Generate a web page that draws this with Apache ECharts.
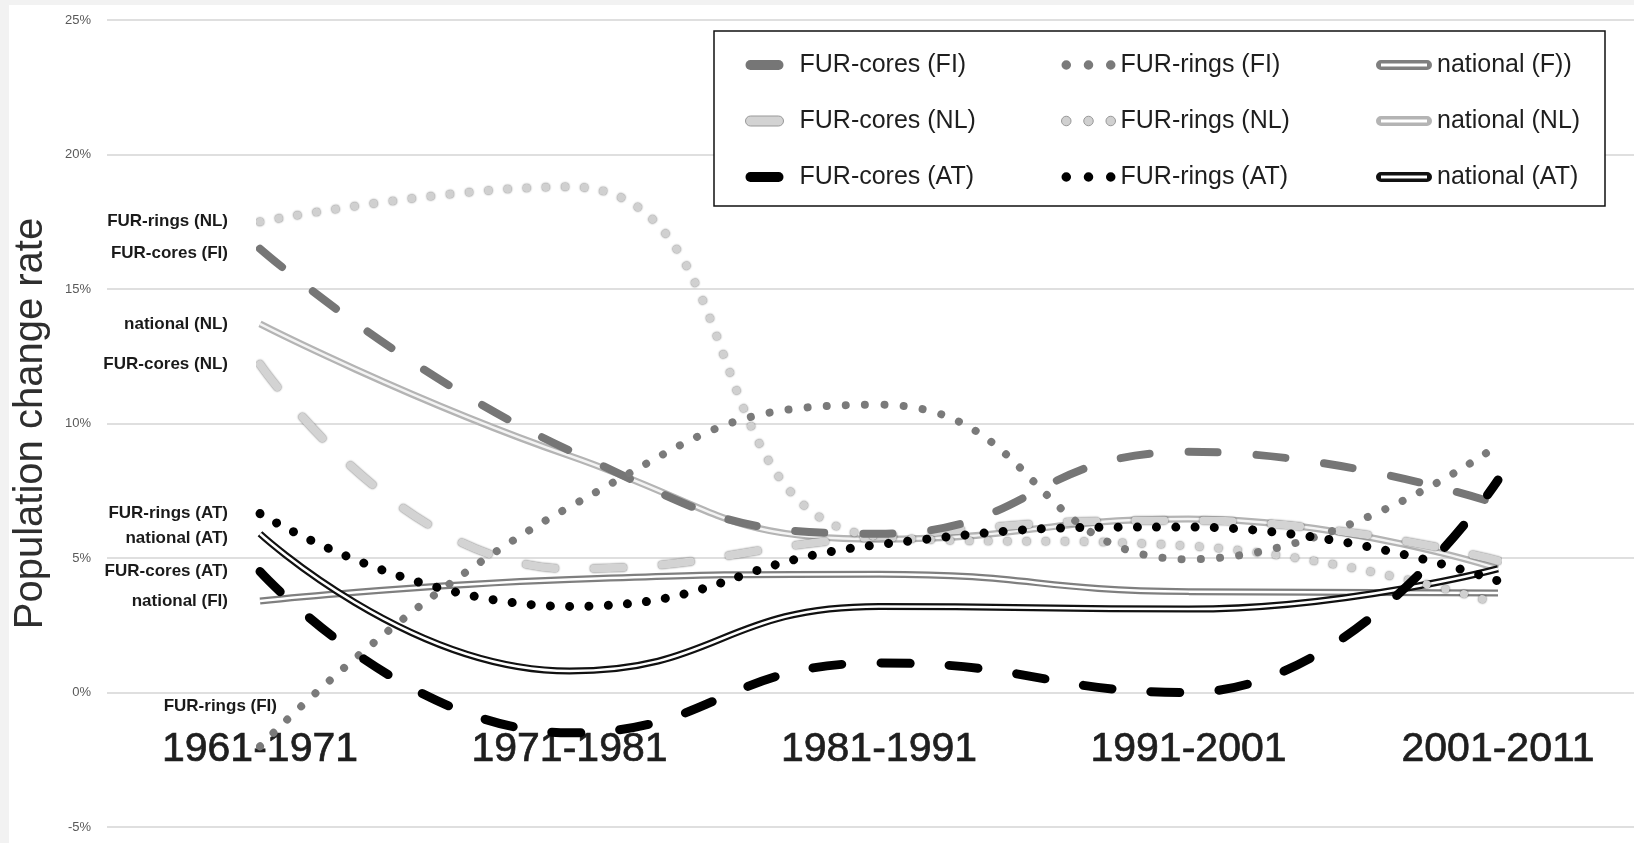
<!DOCTYPE html>
<html>
<head>
<meta charset="utf-8">
<title>Population change rate</title>
<script src="https://cdn.jsdelivr.net/npm/echarts@6.0.0/dist/echarts.min.js"></script>
<style>
  html, body { margin: 0; padding: 0; background: #fff; }
  #chart { width: 1634px; height: 843px; }
</style>
</head>
<body>
<div id="chart"></div>
<script>
// categories / ticks
var periods = ['1961-1971', '1971-1981', '1981-1991', '1991-2001', '2001-2011'];
var yTicks = [-5, 0, 5, 10, 15, 20, 25];

// population change rate in %
var coresFI    = [16.5, 9.0, 5.9, 8.95, 7.0];
var ringsFI    = [-2.0, 6.9, 10.7, 4.95, 9.2];
var nationalFI = [3.4, 4.2, 4.4, 3.75, 3.7];
var coresNL    = [12.2, 4.6, 5.8, 6.4, 4.9];
var ringsNL    = [17.5, 18.8, 5.8, 5.45, 3.3];
var nationalNL = [13.7, 8.8, 5.7, 6.45, 4.6];
var coresAT    = [4.5, -1.5, 1.1, 0.0, 7.9];
var ringsAT    = [6.65, 3.2, 5.5, 6.15, 4.15];
var nationalAT = [5.9, 0.8, 3.2, 3.1, 4.6];

var FONT = 'Liberation Sans';
var chartDom = document.getElementById('chart');
var myChart = echarts.init(chartDom);
var option;

// legend icons
var pill = 'path://M5,0h28a5,5 0 0 1 0,10h-28a5,5 0 0 1 0,-10z';
var dots = 'path://M0,4.5a4.5,4.5 0 1,0 9,0a4.5,4.5 0 1,0 -9,0zM21,4.5a4.5,4.5 0 1,0 9,0a4.5,4.5 0 1,0 -9,0zM42,4.5a4.5,4.5 0 1,0 9,0a4.5,4.5 0 1,0 -9,0z';
var ring = 'path://M5,0h46a5,5 0 0 1 0,10h-46a5,5 0 0 1 0,-10zM5,3.5v3h46v-3z';

var dash = [29, 39];
var dot = [0.01, 19.2];
var outline = { shadowColor: 'rgba(0,0,0,0.6)', shadowBlur: 2 };

// first point carries the series name on the left
function points(vals, label, offset) {
  return vals.map(function (v, i) {
    if (i === 0 && label) {
      return { value: v, label: { show: true, formatter: label, offset: offset || [0, 0] } };
    }
    return v;
  });
}

function line(name, vals, style, label, offset) {
  return {
    name: name,
    type: 'line',
    xAxisIndex: 1,
    yAxisIndex: 1,
    smooth: 0.5,
    data: points(vals, label, offset),
    symbol: 'circle',
    symbolSize: 0,
    showSymbol: true,
    color: style.color,
    lineStyle: style,
    label: {
      show: false,
      position: 'left',
      distance: 32,
      fontFamily: FONT,
      fontWeight: 'bold',
      fontSize: 17,
      color: '#1a1a1a'
    },
    emphasis: { disabled: true },
    silent: true
  };
}

var legendBase = {
  orient: 'vertical',
  top: 52,
  itemGap: 30,
  itemHeight: 10,
  padding: 0,
  selectedMode: false,
  z: 5,
  textStyle: { fontFamily: FONT, fontSize: 25, lineHeight: 26, color: '#1e1e1e' }
};

option = {
  animation: false,
  backgroundColor: '#fff',
  grid: [
    // full-width grid: gridlines, % labels, axis name
    { left: 107, right: 0, top: 20, bottom: 16, outerBoundsMode: 'none' },
    // plot grid: first and last period sit on its edges
    { left: 260, right: 136, top: 20, bottom: 16, outerBoundsMode: 'none' }
  ],
  xAxis: [
    { gridIndex: 0, type: 'value', show: false },
    {
      gridIndex: 1,
      type: 'category',
      data: periods,
      boundaryGap: false,
      position: 'bottom',
      offset: -135,
      axisLine: { show: false, onZero: false },
      axisTick: { show: false },
      splitLine: { show: false },
      axisLabel: {
        interval: 0, fontFamily: FONT, fontSize: 41, color: '#1e1e1e', margin: 37,
        textBorderColor: '#1e1e1e', textBorderWidth: 0.7
      }
    }
  ],
  yAxis: [
    {
      gridIndex: 0,
      type: 'value',
      min: yTicks[0],
      max: yTicks[yTicks.length - 1],
      interval: 5,
      name: 'Population change rate',
      nameLocation: 'middle',
      nameGap: 56,
      nameTextStyle: { fontFamily: FONT, fontSize: 40, color: '#2e2e2e' },
      axisLine: { show: false, onZero: false },
      axisTick: { show: false },
      axisLabel: { formatter: '{value}%', fontFamily: FONT, fontSize: 13, color: '#595959', margin: 16 },
      splitLine: { lineStyle: { color: '#d4d4d4', width: 1.5 } }
    },
    {
      gridIndex: 1,
      type: 'value',
      min: yTicks[0],
      max: yTicks[yTicks.length - 1],
      interval: 5,
      show: false,
      splitLine: { show: false }
    }
  ],
  graphic: [
    {
      type: 'rect',
      z: 3,
      shape: { x: 714, y: 31, width: 891, height: 175 },
      style: { fill: '#fff', stroke: '#111', lineWidth: 1.5 }
    },
    // faint grey edge of the scanned figure
    { type: 'rect', z: 10, shape: { x: 0, y: 0, width: 9, height: 843 }, style: { fill: '#f2f2f2' } },
    { type: 'rect', z: 10, shape: { x: 0, y: 0, width: 1634, height: 5 }, style: { fill: '#f2f2f2' } }
  ],
  legend: [
    Object.assign({}, legendBase, {
      left: 745, itemWidth: 60,
      data: [
        { name: 'FUR-cores (FI)', icon: pill },
        { name: 'FUR-cores (NL)', icon: pill, itemStyle: { borderColor: '#999', borderWidth: 1 } },
        { name: 'FUR-cores (AT)', icon: pill }
      ]
    }),
    Object.assign({}, legendBase, {
      left: 1061, itemWidth: 54,
      data: [
        { name: 'FUR-rings (FI)', icon: dots },
        { name: 'FUR-rings (NL)', icon: dots, itemStyle: { borderColor: '#999', borderWidth: 1 } },
        { name: 'FUR-rings (AT)', icon: dots }
      ]
    }),
    Object.assign({}, legendBase, {
      left: 1376, itemWidth: 56,
      data: [
        { name: 'national (F))', icon: ring },
        { name: 'national (NL)', icon: ring },
        { name: 'national (AT)', icon: ring }
      ]
    })
  ],
  series: [
    // double lines: dark outer stroke, light inner stroke
    line('national (F))', nationalFI, { color: '#7f7f7f', width: 7 }, 'national (FI)'),
    line('nationalFI-inner', nationalFI, { color: '#ffffff', width: 2.5 }),
    line('national (NL)', nationalNL, { color: '#b4b4b4', width: 7 }, 'national (NL)'),
    line('nationalNL-inner', nationalNL, { color: '#f4f4f4', width: 2.5 }),
    line('national (AT)', nationalAT, { color: '#111111', width: 7 }, 'national (AT)', [0, 5]),
    line('nationalAT-inner', nationalAT, { color: '#ffffff', width: 2.5 }),

    line('FUR-cores (NL)', coresNL, Object.assign({ color: '#d3d3d3', width: 8, type: dash, cap: 'round' }, outline), 'FUR-cores (NL)'),
    line('FUR-rings (NL)', ringsNL, Object.assign({ color: '#d0d0d0', width: 8, type: dot, cap: 'round' }, outline), 'FUR-rings (NL)'),
    line('FUR-cores (FI)', coresFI, { color: '#767676', width: 8, type: dash, cap: 'round' }, 'FUR-cores (FI)', [0, 5]),
    line('FUR-rings (FI)', ringsFI, { color: '#7a7a7a', width: 8, type: dot, cap: 'round' }, 'FUR-rings (FI)', [49, -40]),
    line('FUR-cores (AT)', coresAT, { color: '#000000', width: 9, type: dash, cap: 'round' }, 'FUR-cores (AT)'),
    line('FUR-rings (AT)', ringsAT, { color: '#000000', width: 9, type: dot, cap: 'round' }, 'FUR-rings (AT)')
  ]
};

option && myChart.setOption(option);
</script>
</body>
</html>
